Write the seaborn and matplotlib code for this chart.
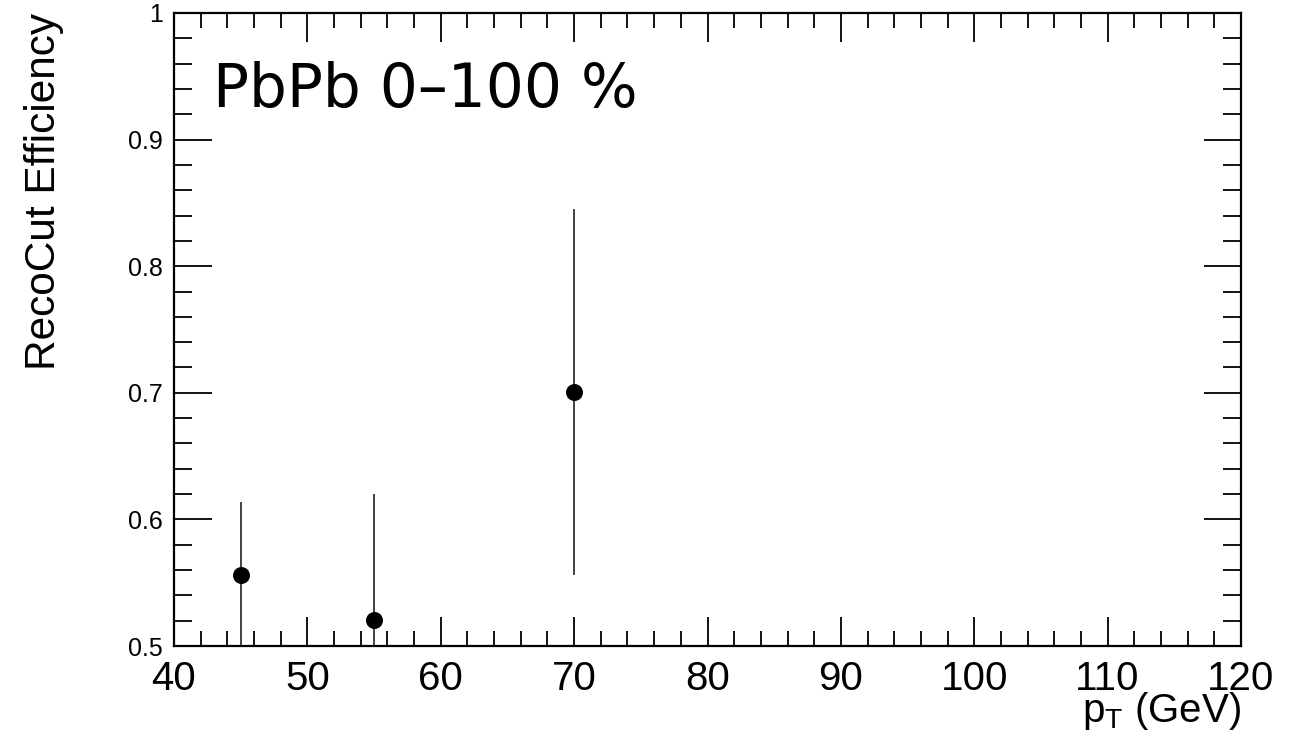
import numpy as np
import pandas as pd
import matplotlib
matplotlib.use("Agg")
import matplotlib.pyplot as plt
from matplotlib.ticker import MultipleLocator
import seaborn as sns

pt = [45, 55, 70]
eff = [0.556, 0.5205, 0.7005]
err = [0.058, 0.0995, 0.1445]

sns.set_style("white")
plt.rcParams['font.family'] = ['Liberation Sans', 'DejaVu Sans']
plt.rcParams['text.color'] = 'black'
plt.rcParams['axes.labelcolor'] = 'black'
plt.rcParams['xtick.color'] = 'black'
plt.rcParams['ytick.color'] = 'black'

df = pd.DataFrame({"pt": pt, "eff": eff, "err": err})

fig = plt.figure(figsize=(12.97, 7.46), dpi=100)
ax = fig.add_axes([174/1297, 1 - 646/746, (1241-174)/1297, (646-13)/746])

ax.errorbar(df["pt"], df["eff"], yerr=df["err"], fmt="none", ecolor="#222222",
            elinewidth=1.2, capsize=0, zorder=2)
sns.scatterplot(data=df, x="pt", y="eff", ax=ax, color="black", s=150,
                edgecolor="black", linewidth=0, zorder=3)

ax.set_xlim(40, 120)
ax.set_ylim(0.5, 1.0)
ax.xaxis.set_major_locator(MultipleLocator(10))
ax.xaxis.set_minor_locator(MultipleLocator(2))
ax.yaxis.set_minor_locator(MultipleLocator(0.02))
ax.set_yticks([0.5, 0.6, 0.7, 0.8, 0.9, 1.0])
ax.set_yticklabels(["0.5", "0.6", "0.7", "0.8", "0.9", "1"])

ax.tick_params(axis="x", which="both", direction="in", top=True, bottom=True)
ax.tick_params(axis="y", which="both", direction="in", left=True, right=True)
ax.tick_params(axis="x", which="major", length=21, width=1.3, labelsize=29, pad=10)
ax.tick_params(axis="x", which="minor", length=11, width=1.3)
ax.tick_params(axis="y", which="major", length=27, width=1.3, labelsize=18, pad=8)
ax.tick_params(axis="y", which="minor", length=13, width=1.3)
for sp in ax.spines.values():
    sp.set_visible(True)
    sp.set_linewidth(1.6)
    sp.set_color("black")

ax.set_xlabel("p$_{\\mathregular{T}}$ (GeV)", fontsize=29, loc="right", labelpad=-6)
ax.set_ylabel("RecoCut Efficiency", fontsize=30.5, loc="top", labelpad=46)

ax.text(0.037, 0.8515, "PbPb 0\u2013100 %", transform=ax.transAxes, fontsize=43,
        family="DejaVu Sans", ha="left", va="baseline")

fig.savefig("out.png", dpi=100)
